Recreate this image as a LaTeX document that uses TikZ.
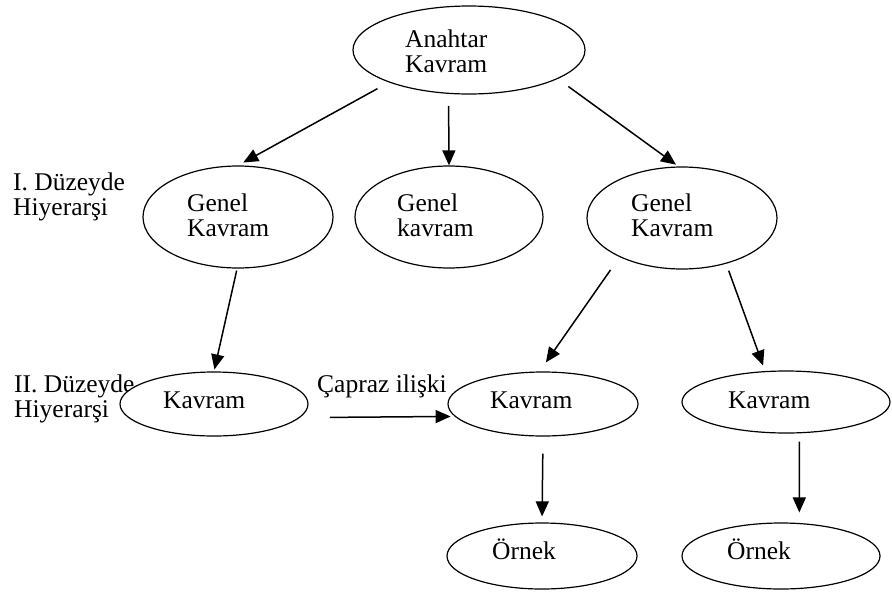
\documentclass[tikz,border=0pt]{standalone}
\usepackage{fontspec}
\setmainfont{Liberation Serif}
\usetikzlibrary{arrows.meta,shapes.geometric}
\tikzset{
  ell/.style={draw, ellipse, fill=white, line width=1.2pt, inner sep=0pt},
  txt/.style={inner sep=0pt, align=left, anchor=base west, font=\fontsize{25.5}{25}\selectfont},
  arr/.style={line width=1.5pt, -{Triangle[length=15pt,width=13pt]}},
}
\begin{document}
\begin{tikzpicture}[x=1pt,y=-1pt]
\useasboundingbox (0,0) rectangle (892,595);
% level labels (anchor = baseline of last line)
\node[txt] (lv1) at (13,215) {I. Düzeyde\\Hiyerarşi};
\node[txt] (lv2) at (14,417) {II. Düzeyde\\Hiyerarşi};
\node[txt] (cap) at (317,392) {Çapraz ilişki};
% ellipses
\node[ell, minimum width=232pt, minimum height=88pt] (top) at (469,50) {};
\node[ell, minimum width=190pt, minimum height=102pt] (g1) at (238,217) {};
\node[ell, minimum width=188pt, minimum height=102pt] (g2) at (449,217) {};
\node[ell, minimum width=190pt, minimum height=102pt] (g3) at (682,218) {};
\node[ell, minimum width=188pt, minimum height=64pt] (k1) at (214,404) {};
\node[ell, minimum width=190pt, minimum height=64pt] (k2) at (543,404) {};
\node[ell, minimum width=208pt, minimum height=62pt] (k3) at (786,402) {};
\node[ell, minimum width=190pt, minimum height=66pt] (o1) at (542,556) {};
\node[ell, minimum width=198pt, minimum height=66pt] (o2) at (781,556) {};
% texts
\node[txt] (ttop) at (405,72) {Anahtar\\Kavram};
\node[txt] (tg1) at (187,236) {Genel\\Kavram};
\node[txt] (tg2) at (397,236) {Genel\\kavram};
\node[txt] (tg3) at (631,236) {Genel\\Kavram};
\node[txt] (tk1) at (163,408) {Kavram};
\node[txt] (tk2) at (490,408) {Kavram};
\node[txt] (tk3) at (728,408) {Kavram};
\node[txt] (to1) at (492,559) {Örnek};
\node[txt] (to2) at (727,559) {Örnek};
% connectors
\draw[arr, shorten <=13pt, shorten >=6pt] (top.202) -- (g1.90.6);
\draw[arr, shorten <=12pt] (top.245) -- (g2.90);
\draw[arr, shorten <=13pt, shorten >=3pt] (top.342) -- (g3.94.7);
\draw[arr, shorten <=2pt, shorten >=2pt] (g1.269.3) -- (k1.90.9);
\draw[arr, shorten <=15.7pt, shorten >=11pt] (g3.212.8) -- (k2.96.1);
\draw[arr, shorten <=7.3pt, shorten >=5.9pt] (g3.314.6) -- (k3.124.2);
\draw[arr, shorten <=30pt, shorten >=4pt] (k1.351.4) -- (k2.188.5);
\draw[arr, shorten <=17pt, shorten >=6pt] (k2.270) -- (o1.90);
\draw[arr, shorten <=8.2pt, shorten >=10.5pt] (k3.293.6) -- (o2.61);
\end{tikzpicture}
\end{document}
